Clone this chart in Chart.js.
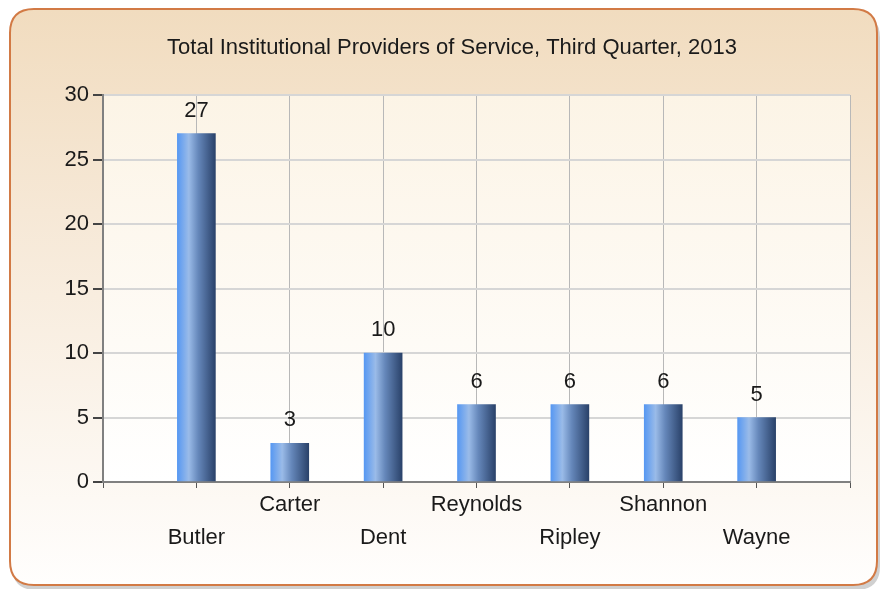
<!DOCTYPE html>
<html>
<head>
<meta charset="utf-8">
<script src="https://cdn.jsdelivr.net/npm/chart.js@4"></script>
<style>
  html, body { margin: 0; padding: 0; background: #ffffff; }
  #wrap { width: 880px; height: 589px; }
</style>
</head>
<body>
<div id="wrap"><canvas id="providersChart" width="880" height="589"></canvas></div>
<script>
// chart data
const counties = ['Butler', 'Carter', 'Dent', 'Reynolds', 'Ripley', 'Shannon', 'Wayne'];
const providers = [27, 3, 10, 6, 6, 6, 5];
const yTicks = [0, 5, 10, 15, 20, 25, 30];
const chartTitle = 'Total Institutional Providers of Service, Third Quarter, 2013';

const FONT = '"Liberation Sans", Arial, sans-serif';
const FONT_SIZE = 22;

// bars sit on x = 1..7, axis runs 0..8
const points = providers.map((v, i) => ({ x: i + 1, y: v }));

function roundRect(ctx, x, y, w, h, r) {
    ctx.beginPath();
    ctx.moveTo(x + r, y);
    ctx.lineTo(x + w - r, y);
    ctx.quadraticCurveTo(x + w, y, x + w, y + r);
    ctx.lineTo(x + w, y + h - r);
    ctx.quadraticCurveTo(x + w, y + h, x + w - r, y + h);
    ctx.lineTo(x + r, y + h);
    ctx.quadraticCurveTo(x, y + h, x, y + h - r);
    ctx.lineTo(x, y + r);
    ctx.quadraticCurveTo(x, y, x + r, y);
    ctx.closePath();
}

// panel and plot backgrounds, plus the title
const backgroundPlugin = {
    id: 'panelBackground',
    beforeDraw(chart) {
        const ctx = chart.ctx;
        const area = chart.chartArea;
        ctx.save();
        // shadow
        ctx.fillStyle = 'rgba(120,120,120,0.35)';
        roundRect(ctx, 12, 14, 868, 576, 24);
        ctx.fill();
        // panel
        const g = ctx.createLinearGradient(0, 10, 0, 585);
        g.addColorStop(0, '#f1dcbf');
        g.addColorStop(0.35, '#f6e8d6');
        g.addColorStop(1, '#fffefd');
        ctx.fillStyle = g;
        roundRect(ctx, 10, 9, 867, 576, 24);
        ctx.fill();
        ctx.strokeStyle = '#d27a45';
        ctx.lineWidth = 2;
        ctx.stroke();
        // plot area
        const pg = ctx.createLinearGradient(0, area.top, 0, area.bottom);
        pg.addColorStop(0, '#fcf4e6');
        pg.addColorStop(1, '#ffffff');
        ctx.fillStyle = pg;
        ctx.fillRect(area.left, area.top, area.right - area.left, area.bottom - area.top);
        // title
        ctx.font = FONT_SIZE + 'px ' + FONT;
        ctx.fillStyle = '#1a1a1a';
        ctx.textAlign = 'center';
        ctx.textBaseline = 'middle';
        ctx.fillText(chartTitle, 452, 48);
        ctx.restore();
    }
};

// value labels above bars
const valueLabels = {
    id: 'valueLabels',
    afterDatasetsDraw(chart) {
        const ctx = chart.ctx;
        const meta = chart.getDatasetMeta(0);
        ctx.save();
        ctx.font = FONT_SIZE + 'px ' + FONT;
        ctx.fillStyle = '#1a1a1a';
        ctx.textAlign = 'center';
        ctx.textBaseline = 'alphabetic';
        meta.data.forEach((bar, i) => {
            ctx.fillText(String(providers[i]), bar.x, bar.y - 17);
        });
        ctx.restore();
    }
};

function barGradient(context) {
    const chart = context.chart;
    const xs = chart.scales && chart.scales.x;
    if (!chart.chartArea || !xs || !context.raw) return '#5a8fd8';
    const cx = xs.getPixelForValue(context.raw.x);
    if (!Number.isFinite(cx)) return '#5a8fd8';
    const half = 19;
    const g = chart.ctx.createLinearGradient(cx - half, 0, cx + half, 0);
    g.addColorStop(0, '#5798f2');
    g.addColorStop(0.3, '#9abbe8');
    g.addColorStop(0.55, '#6587ba');
    g.addColorStop(1, '#2a426a');
    return g;
}

new Chart(document.getElementById('providersChart').getContext('2d'), {
    type: 'bar',
    data: {
        datasets: [{
            label: 'Providers',
            data: points,
            backgroundColor: barGradient,
            borderWidth: 0,
            barThickness: 38
        }]
    },
    plugins: [backgroundPlugin, valueLabels],
    options: {
        responsive: false,
        animation: false,
        layout: { padding: { left: 20, right: 30, top: 95, bottom: 0 } },
        plugins: {
            legend: { display: false },
            tooltip: { enabled: false },
            title: { display: false }
        },
        scales: {
            x: {
                type: 'linear',
                min: 0,
                max: 8,
                offset: false,
                afterBuildTicks: scale => {
                    scale.ticks = [0, 1, 2, 3, 4, 5, 6, 7, 8].map(v => ({ value: v }));
                },
                afterFit: scale => { scale.height = 107; },
                border: { display: true, color: '#808080', width: 2 },
                grid: {
                    offset: false,
                    color: '#b8b8b8',
                    borderDash: [2, 2],
                    tickColor: '#555555',
                    tickLength: 6,
                    tickBorderDash: []
                },
                ticks: {
                    padding: 0,
                    maxRotation: 0,
                    autoSkip: false,
                    color: '#1a1a1a',
                    font: { family: FONT, size: FONT_SIZE, lineHeight: '33px' },
                    callback: v => {
                        const name = counties[v - 1];
                        if (!name) return '';
                        return (v - 1) % 2 === 0 ? ['', name] : name;
                    }
                }
            },
            y: {
                min: 0,
                max: 30,
                afterBuildTicks: scale => {
                    scale.ticks = yTicks.map(v => ({ value: v }));
                },
                afterFit: scale => { scale.width = 83; },
                border: { display: true, color: '#808080', width: 2 },
                grid: {
                    color: '#d6d6d6',
                    lineWidth: 2,
                    tickColor: '#444444',
                    tickLength: 10
                },
                ticks: {
                    padding: 4,
                    color: '#1a1a1a',
                    font: { family: FONT, size: FONT_SIZE }
                }
            }
        }
    }
});
</script>
</body>
</html>
